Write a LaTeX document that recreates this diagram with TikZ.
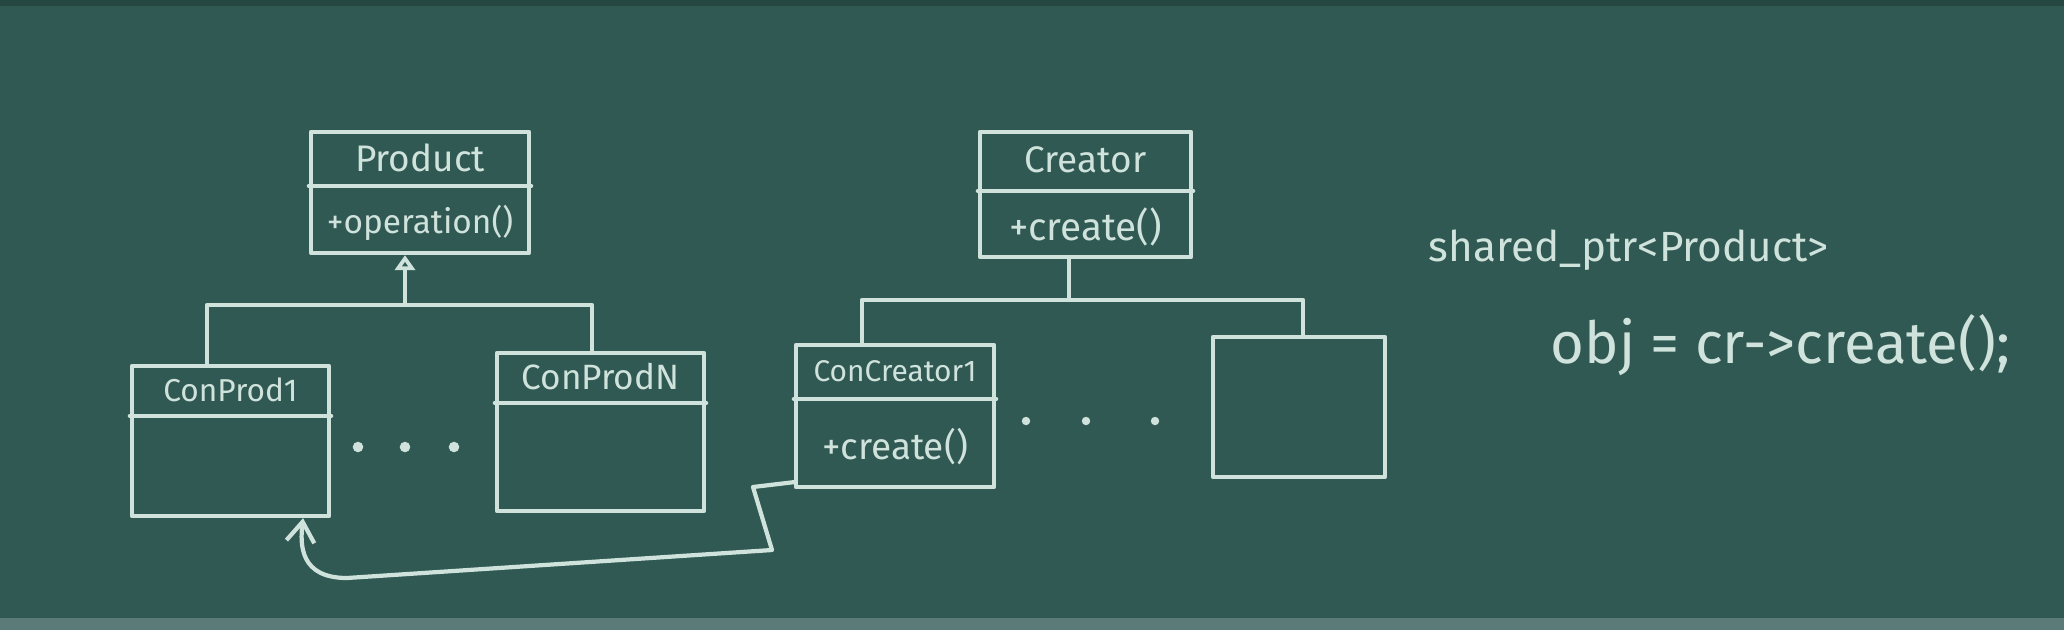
\documentclass[tikz,border=0pt]{standalone}
\usepackage{fontspec}
\setmainfont{Fira Sans}
\usetikzlibrary{arrows.meta}
\definecolor{board}{HTML}{2F5952}
\definecolor{chalk}{HTML}{CFE2DB}
\definecolor{tray}{HTML}{5B7B78}
\tikzset{
  chalkline/.style={draw=chalk, line width=1.2pt, line cap=round, line join=round},
  classbox/.style={chalkline, rectangle, inner sep=0pt},
  lbl/.style={text=chalk, inner sep=0pt, font=\fontsize{#1}{#1}\selectfont},
  lbl/.default=10,
}
\begin{document}
\begin{tikzpicture}[x=0.01cm, y=-0.01cm]
\fill[board] (0,0) rectangle (2064,630);
\fill[board!80!black] (0,0) rectangle (2064,6);
\fill[tray] (0,618) rectangle (2064,630);
\useasboundingbox (0,0) rectangle (2064,630);

% product hierarchy
\node[classbox, minimum width=2.18cm, minimum height=1.21cm] (prod) at (420,192.5) {};
\node[lbl=10.5] (prodname) at ([yshift=-0.28cm]prod.north) {Product};
\node[lbl=9.5] (prodop) at ([yshift=0.32cm]prod.south) {+operation()};
\draw[chalkline] ([yshift=-0.56cm]prod.north west) -- ([yshift=-0.56cm]prod.north east);

\node[classbox, minimum width=1.97cm, minimum height=1.50cm] (cp1) at (230.5,441) {};
\node[lbl=9] (cp1name) at ([yshift=-0.26cm]cp1.north) {ConProd1};
\draw[chalkline] ([yshift=-0.52cm]cp1.north west) -- ([yshift=-0.52cm]cp1.north east);

\node[classbox, minimum width=2.07cm, minimum height=1.58cm] (cpn) at (600.5,432) {};
\node[lbl=10] (cpnname) at ([yshift=-0.26cm]cpn.north) {ConProdN};
\draw[chalkline] ([yshift=-0.52cm]cpn.north west) -- ([yshift=-0.52cm]cpn.north east);

\coordinate (pj) at (405,305);
\coordinate (pl) at (207,305);
\coordinate (pr) at (592,305);
\draw[chalkline, -{Triangle[open, width=0.2cm, length=0.15cm]}] (pj) -- (pj |- prod.south);
\draw[chalkline] (pl |- cp1.north) -- (pl) -- (pr) -- (pr |- cpn.north);
\foreach \x in {358,405,454}
  \fill[chalk] (\x,447) circle (1.5pt);

% creator hierarchy
\node[classbox, minimum width=2.11cm, minimum height=1.25cm] (cr) at (1085.5,194.5) {};
\node[lbl=10.5] (crname) at ([yshift=-0.30cm]cr.north) {Creator};
\node[lbl=11] (crop) at ([yshift=0.32cm]cr.south) {+create()};
\draw[chalkline] ([yshift=-0.61cm]cr.north west) -- ([yshift=-0.61cm]cr.north east);

\node[classbox, minimum width=1.98cm, minimum height=1.42cm] (cc1) at (895,416) {};
\node[lbl=8.5] (cc1name) at ([yshift=-0.28cm]cc1.north) {ConCreator1};
\node[lbl=10.5] (cc1op) at ([yshift=0.43cm]cc1.south) {+create()};
\draw[chalkline] ([yshift=-0.56cm]cc1.north west) -- ([yshift=-0.56cm]cc1.north east);

\node[classbox, minimum width=1.72cm, minimum height=1.40cm] (ccn) at (1299,407) {};

\coordinate (cj) at (1069,300);
\coordinate (cl) at (862,300);
\coordinate (cq) at (1303,300);
\draw[chalkline] (cj |- cr.south) -- (cj);
\draw[chalkline] (cl |- cc1.north) -- (cl) -- (cq) -- (cq |- ccn.north);
\foreach \x in {1026,1086,1155}
  \fill[chalk] (\x,421) circle (1.2pt);

% create() hands back a product
\coordinate (tip) at ([xshift=0.725cm]cp1.south);
\draw[chalkline, -{Straight Barb[length=0.2cm, width=0.28cm]}] ([yshift=0.07cm]cc1.south west) -- (753,487) -- (772,550) -- (347,578) .. controls (300,578) and (300,545) .. (tip);

% usage
\node[lbl=12, anchor=west] (ptr) at (1428,250) {shared\_ptr<Product>};
\node[lbl=16.5, anchor=west] (call) at (1550,345) {obj = cr->create();};
\end{tikzpicture}
\end{document}
